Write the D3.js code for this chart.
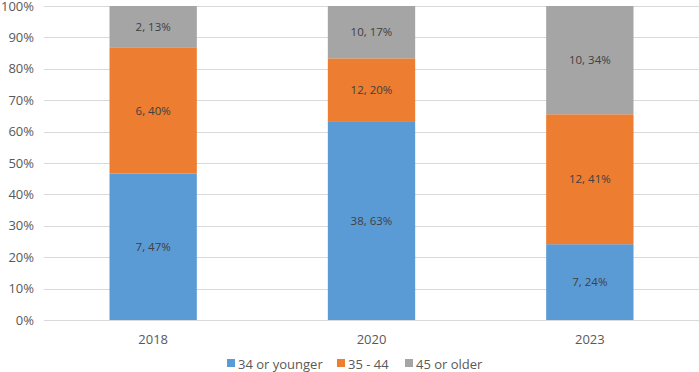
<!DOCTYPE html>
<html>
<head>
<meta charset="utf-8">
<script src="https://cdn.jsdelivr.net/npm/d3@7"></script>
<style>
  body { margin: 0; background: #fff; }
  svg text { font-family: "Open Sans", "Liberation Sans", sans-serif; }
</style>
</head>
<body>
<svg id="svg1" width="699" height="372"></svg>
<script>
// data
var years = ["2018", "2020", "2023"]
var groups = ["34 or younger", "35 - 44", "45 or older"]
var young = [7, 38, 7]
var mid = [6, 12, 12]
var old = [2, 10, 10]
var yTicks = [0, 0.1, 0.2, 0.3, 0.4, 0.5, 0.6, 0.7, 0.8, 0.9, 1]
var colors = ["#5B9BD5", "#ED7D31", "#A5A5A5"]

var margin = {top: 6, right: 0, bottom: 52, left: 44}
var width = 699 - margin.left - margin.right
var height = 372 - margin.top - margin.bottom

var rows = years.map(function(y, i){
  return {year: y, "34 or younger": young[i], "35 - 44": mid[i], "45 or older": old[i]}
})

var stack = d3.stack().keys(groups).offset(d3.stackOffsetExpand)
var series = stack(rows)

var svg = d3.select("#svg1")
  .append("g")
  .attr("transform", `translate(${margin.left},${margin.top})`)

var x = d3.scaleBand().domain(years).range([0, width]).paddingInner(0).paddingOuter(0)
var y = d3.scaleLinear().domain([0, 1]).range([height, 0])
var barW = x.bandwidth() / 2.5

// gridlines
svg.append("g")
  .selectAll("line")
  .data(yTicks)
  .enter()
  .append("line")
    .attr("x1", 0)
    .attr("x2", width)
    .attr("y1", d => Math.round(y(d)) + 0.5)
    .attr("y2", d => Math.round(y(d)) + 0.5)
    .style("stroke", "#D9D9D9")
    .style("stroke-width", 1)

// y axis labels
svg.append("g")
  .attr("transform", "translate(-7,0)")
  .call(d3.axisLeft(y).tickValues(yTicks).tickFormat(d3.format(".0%")).tickSize(0))
  .call(g => g.select(".domain").remove())
  .selectAll("text")
    .style("font-size", "13px")
    .style("fill", "#595959")

// x axis labels
svg.append("g")
  .attr("transform", `translate(0,${height + 12})`)
  .call(d3.axisBottom(x).tickSize(0))
  .call(g => g.select(".domain").remove())
  .selectAll("text")
    .style("font-size", "13px")
    .style("fill", "#595959")

// bars
var layer = svg.selectAll(".layer")
  .data(series)
  .enter()
  .append("g")
    .attr("class", "layer")
    .style("fill", (d, i) => colors[i])

layer.selectAll("rect")
  .data(d => d)
  .enter()
  .append("rect")
    .attr("x", d => x(d.data.year) + (x.bandwidth() - barW) / 2)
    .attr("y", d => y(d[1]))
    .attr("width", barW)
    .attr("height", d => y(d[0]) - y(d[1]))

// data labels "count, pct"
series.forEach(function(s){
  svg.selectAll(null)
    .data(s)
    .enter()
    .append("text")
      .attr("x", d => x(d.data.year) + x.bandwidth() / 2)
      .attr("y", d => y((d[0] + d[1]) / 2))
      .attr("dy", "0.35em")
      .text(d => d.data[s.key] + ", " + Math.round((d[1] - d[0]) * 100) + "%")
      .style("text-anchor", "middle")
      .style("font-size", "11.5px")
      .style("fill", "#404040")
})

// legend
var legX = [227, 337, 405]
var legend = d3.select("#svg1").append("g")
  .attr("transform", "translate(0,364)")
legend.selectAll("rect")
  .data(groups)
  .enter()
  .append("rect")
    .attr("x", (d, i) => legX[i])
    .attr("y", -5)
    .attr("width", 8)
    .attr("height", 8)
    .style("fill", (d, i) => colors[i])
legend.selectAll("text")
  .data(groups)
  .enter()
  .append("text")
    .attr("x", (d, i) => legX[i] + 11)
    .attr("y", 0)
    .attr("dy", "0.35em")
    .text(d => d)
    .style("font-size", "13px")
    .style("fill", "#595959")
</script>
</body>
</html>
